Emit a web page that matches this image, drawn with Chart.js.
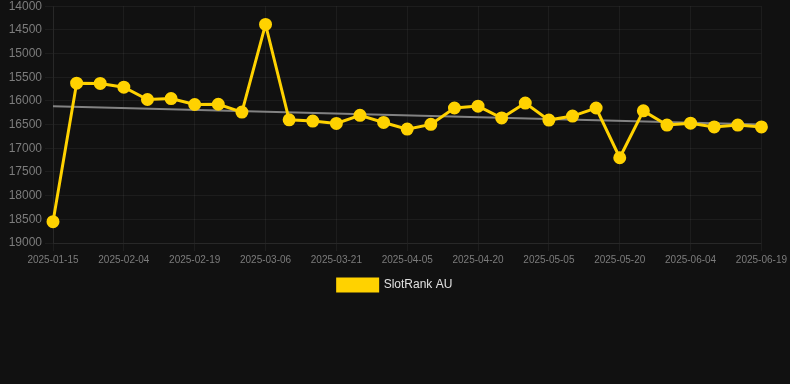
<!DOCTYPE html>
<html>
<head>
<meta charset="utf-8">
<script src="https://cdn.jsdelivr.net/npm/chart.js@4"></script>
<style>
  html, body { margin: 0; padding: 0; background: #111111; overflow: hidden; }
  #wrap { width: 790px; height: 305px; margin-top: -4px; }
</style>
</head>
<body>
<div id="wrap"><canvas id="rankChart" width="790" height="305"></canvas></div>
<script>
// --- Data ---
const dates = [
  "2025-01-15", "2025-01-25", "2025-01-30", "2025-02-04", "2025-02-09", "2025-02-14",
  "2025-02-19", "2025-02-24", "2025-03-01", "2025-03-06", "2025-03-11", "2025-03-16",
  "2025-03-21", "2025-03-26", "2025-03-31", "2025-04-05", "2025-04-10", "2025-04-15",
  "2025-04-20", "2025-04-25", "2025-04-30", "2025-05-05", "2025-05-10", "2025-05-15",
  "2025-05-20", "2025-05-25", "2025-05-30", "2025-06-04", "2025-06-09", "2025-06-14",
  "2025-06-19",
];
const rankAU = [
  18550, 15625, 15630, 15710, 15970, 15950, 16075, 16070, 16235, 14385,
  16400, 16425, 16475, 16305, 16455, 16595, 16495, 16150, 16110, 16360,
  16045, 16405, 16320, 16150, 17200, 16210, 16510, 16470, 16550, 16510,
  16550,
];
// trend line end points
const trendStart = 16110;
const trendEnd = 16500;
const trend = dates.map((_, i) =>
  i === 0 ? trendStart : i === dates.length - 1 ? trendEnd : null
);
const yTicks = { min: 14000, max: 19000, step: 500 };

// --- Chart ---
const gridColor = "rgba(255, 255, 255, 0.05)";
const tickColor = "#7c7c7c";
const fontFamily = "Liberation Sans, Arial, sans-serif";

new Chart(document.getElementById("rankChart").getContext("2d"), {
  type: "line",
  data: {
    labels: dates,
    datasets: [
      {
        label: "SlotRank AU",
        data: rankAU,
        borderColor: "#ffd200",
        backgroundColor: "#ffd200",
        borderWidth: 3,
        pointRadius: 5,
        pointHoverRadius: 6,
        tension: 0,
      },
      {
        label: "trend",
        data: trend,
        spanGaps: true,
        borderColor: "rgba(150, 150, 150, 0.85)",
        borderWidth: 2,
        pointRadius: 0,
      },
    ],
  },
  options: {
    responsive: false,
    animation: false,
    plugins: {
      legend: {
        position: "bottom",
        labels: {
          color: "#e0e0e0",
          boxWidth: 40,
          boxHeight: 12,
          font: { family: fontFamily, size: 12 },
          filter: (item) => item.text !== "trend",
        },
      },
      tooltip: { enabled: false },
    },
    scales: {
      x: {
        grid: { color: gridColor },
        border: { color: gridColor },
        ticks: {
          color: tickColor,
          maxRotation: 0,
          font: { family: fontFamily, size: 10 },
        },
      },
      y: {
        reverse: true,
        min: yTicks.min,
        max: yTicks.max,
        grid: { color: gridColor },
        border: { color: gridColor },
        afterFit: (scale) => {
          scale.width = 53;
        },
        ticks: {
          stepSize: yTicks.step,
          color: tickColor,
          font: { family: fontFamily, size: 12 },
          callback: (v) => String(v),
        },
      },
    },
  },
});
</script>
</body>
</html>
